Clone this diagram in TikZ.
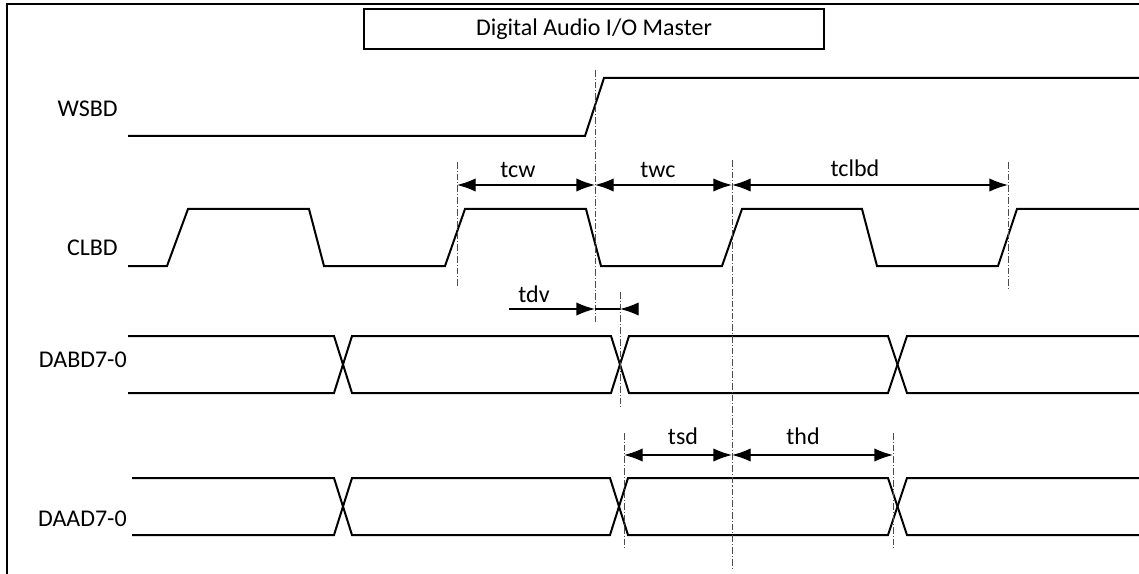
\documentclass[tikz,border=0pt]{standalone}
\usepackage{fontspec}
\setmainfont{Carlito}
\usetikzlibrary{arrows.meta}

\tikzset{
  sig/.style={line width=1.5pt, line join=miter},
  guide/.style={black!70, line width=0.5pt, dash pattern=on 5pt off 1.5pt on 0.8pt off 1.5pt},
  dim/.style={line width=1pt, {Latex[length=14pt,width=10pt]}-{Latex[length=14pt,width=10pt]}},
  dimr/.style={line width=1pt, -{Latex[length=14pt,width=10pt]}},
  lbl/.style={font=\fontsize{18}{22}\selectfont, inner sep=0pt},
}

\begin{document}
\begin{tikzpicture}[x=0.75pt,y=-0.75pt]
        \useasboundingbox (0,0) rectangle (1139,574);
        % rahmen
        \draw[line width=2.2pt] (7,574) -- (7,4) -- (1139,4);
        \node[lbl, draw, line width=1.2pt, minimum width=345pt, minimum height=30pt] (title) at (594,29) {Digital Audio I/O Master};

        % namen
        \node[lbl, anchor=base east] (wsbd) at (118,117) {WSBD};
        \node[lbl, anchor=base east] (clbd) at (118,255) {CLBD};
        \node[lbl, anchor=base east] (dabd) at (127,367) {DABD7-0};
        \node[lbl, anchor=base east] (daad) at (127,526) {DAAD7-0};

        % signale
        \draw[sig] (128,136) -- (585,136) -- (604,78) -- (1139,78);
        \draw[sig] (128,266) -- (167,266) -- (188,209) -- (309,209) -- (324,266) -- (445,266) -- (465,209) -- (586,209) -- (601,266) -- (722,266) -- (742,209) -- (862,209) -- (877,266) -- (998,266) -- (1017,209) -- (1139,209);

        \draw[sig] (128,336) -- (334,336) -- (352,393) -- (611,393) -- (629,336) -- (888,336) -- (907,393) -- (1139,393);
        \draw[sig] (128,393) -- (334,393) -- (352,336) -- (611,336) -- (629,393) -- (888,393) -- (907,336) -- (1139,336);

        \draw[sig] (132,478) -- (334,478) -- (352,535) -- (610,535) -- (628,478) -- (888,478) -- (907,535) -- (1139,535);
        \draw[sig] (132,535) -- (334,535) -- (352,478) -- (610,478) -- (628,535) -- (888,535) -- (907,478) -- (1139,478);

        % hilfslinien
        \draw[guide] (457,162) -- (457,288);
        \draw[guide] (595,70) -- (595,322);
        \draw[guide] (732,160) -- (732,568);
        \draw[guide] (1008,162) -- (1008,290);
        \draw[guide] (620,292) -- (620,408);
        \draw[guide] (624,433) -- (624,550);
        \draw[guide] (893,433) -- (893,550);

        % zeiten
        \coordinate (c1) at (457,185);
        \coordinate (c2) at (595,185);
        \coordinate (c3) at (732,185);
        \coordinate (c4) at (1008,185);
        \draw[dim] (c1) -- (c2);
        \draw[dim] (c2) -- (c3);
        \draw[dim] (c3) -- (c4);
        \node[lbl, anchor=base] (tcw) at (518,178) {tcw};
        \node[lbl, anchor=base] (twc) at (658,178) {twc};
        \node[lbl, anchor=base] (tclbd) at (855,177) {tclbd};

        \coordinate (v0) at (509,309);
        \coordinate (v1) at (595,309);
        \coordinate (v2) at (620,309);
        \coordinate (v3) at (637,309);
        \draw[dimr] (v0) -- (v1);
        \draw[line width=1pt] (v1) -- (v2);
        \draw[dimr] (v3) -- (v2);
        \node[lbl, anchor=base] (tdv) at (534,302) {tdv};

        \coordinate (s1) at (624,455);
        \coordinate (s2) at (732,455);
        \coordinate (s3) at (893,455);
        \draw[dim] (s1) -- (s2);
        \draw[dim] (s2) -- (s3);
        \node[lbl, anchor=base] (tsd) at (683,444) {tsd};
        \node[lbl, anchor=base] (thd) at (803,444) {thd};
\end{tikzpicture}
\end{document}
